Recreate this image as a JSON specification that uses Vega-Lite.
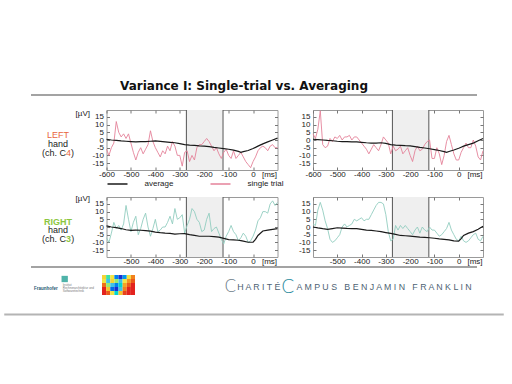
{
 "$schema": "https://vega.github.io/schema/vega-lite/v6.json",
 "background": "white",
 "padding": {"left": 3, "top": 80, "right": 5, "bottom": 3},
 "config": {
  "font": "Liberation Sans",
  "view": {"stroke": "#9a9a9a"},
  "axis": {"domain": false, "grid": false, "ticks": false, "labelOverlap": false, "labelFlush": false, "labelFont": "Liberation Sans", "labelFontSize": 8, "labelColor": "#222", "titleFont": "Liberation Sans", "titleFontSize": 8, "titleFontWeight": "normal", "titleColor": "#222"},
  "legend": {"labelFont": "Liberation Sans"},
  "title": {"font": "Liberation Sans"}
 },
 "datasets": {
  "band": [{"a": -273, "b": -123}],
  "single": [
   {"t":-600,"tl":-6,"tr":4,"bl":-7,"br":2},
   {"t":-590,"tl":-10,"tr":1,"bl":-10,"br":1},
   {"t":-580,"tl":-5,"tr":7,"bl":-4,"br":11},
   {"t":-570,"tl":-2,"tr":19,"bl":3,"br":16},
   {"t":-560,"tl":12,"tr":-3,"bl":-1,"br":11},
   {"t":-550,"tl":5,"tr":-5,"bl":1,"br":4},
   {"t":-540,"tl":2,"tr":-4,"bl":-2,"br":-1},
   {"t":-530,"tl":4,"tr":1,"bl":2,"br":-8},
   {"t":-520,"tl":1,"tr":-1,"bl":14,"br":-10},
   {"t":-510,"tl":4,"tr":2,"bl":5,"br":-9},
   {"t":-500,"tl":-2,"tr":1,"bl":-3,"br":-7},
   {"t":-490,"tl":-8,"tr":3,"bl":3,"br":-5},
   {"t":-480,"tl":-13,"tr":0,"bl":7,"br":0},
   {"t":-470,"tl":-8,"tr":2,"bl":-5,"br":2},
   {"t":-460,"tl":-5,"tr":2,"bl":-1,"br":0},
   {"t":-450,"tl":-9,"tr":3,"bl":5,"br":1},
   {"t":-440,"tl":-6,"tr":0,"bl":9,"br":2},
   {"t":-430,"tl":-3,"tr":2,"bl":0,"br":5},
   {"t":-420,"tl":6,"tr":2,"bl":-6,"br":4},
   {"t":-410,"tl":-1,"tr":0,"bl":-1,"br":5},
   {"t":-400,"tl":-5,"tr":-2,"bl":5,"br":6},
   {"t":-390,"tl":-8,"tr":-4,"bl":-3,"br":4},
   {"t":-380,"tl":-11,"tr":-6,"bl":-2,"br":5},
   {"t":-370,"tl":-7,"tr":-9,"bl":0,"br":5},
   {"t":-360,"tl":-9,"tr":-6,"bl":0,"br":8},
   {"t":-350,"tl":-4,"tr":-3,"bl":3,"br":11},
   {"t":-340,"tl":-7,"tr":-5,"bl":7,"br":14},
   {"t":-330,"tl":-1,"tr":-7,"bl":2,"br":16},
   {"t":-320,"tl":-4,"tr":-3,"bl":12,"br":16},
   {"t":-310,"tl":-10,"tr":2,"bl":5,"br":15},
   {"t":-300,"tl":-10,"tr":0,"bl":6,"br":8},
   {"t":-290,"tl":-17,"tr":-2,"bl":8,"br":-3},
   {"t":-280,"tl":-8,"tr":-9,"bl":-4,"br":-9},
   {"t":-270,"tl":-7,"tr":-4,"bl":1,"br":-8},
   {"t":-260,"tl":-14,"tr":-7,"bl":5,"br":1},
   {"t":-250,"tl":-10,"tr":-6,"bl":12,"br":-2},
   {"t":-240,"tl":-13,"tr":-4,"bl":10,"br":1},
   {"t":-230,"tl":-5,"tr":-9,"bl":5,"br":-1},
   {"t":-220,"tl":-3,"tr":-7,"bl":3,"br":1},
   {"t":-210,"tl":-3,"tr":-5,"bl":-3,"br":-1},
   {"t":-200,"tl":-1,"tr":-10,"bl":-2,"br":-3},
   {"t":-190,"tl":1,"tr":-14,"bl":5,"br":-5},
   {"t":-180,"tl":-1,"tr":-7,"bl":9,"br":-2},
   {"t":-170,"tl":-4,"tr":-4,"bl":-3,"br":0},
   {"t":-160,"tl":-7,"tr":-7,"bl":-1,"br":-4},
   {"t":-150,"tl":-5,"tr":-6,"bl":0,"br":0},
   {"t":-140,"tl":-9,"tr":-3,"bl":-4,"br":-2},
   {"t":-130,"tl":-12,"tr":-1,"bl":-8,"br":-3},
   {"t":-120,"tl":-8,"tr":0,"bl":-11,"br":0},
   {"t":-110,"tl":-6,"tr":-12,"bl":-6,"br":-2},
   {"t":-100,"tl":-10,"tr":-12,"bl":-3,"br":-2},
   {"t":-90,"tl":-12,"tr":-5,"bl":1,"br":-4},
   {"t":-80,"tl":-7,"tr":-9,"bl":-3,"br":-6},
   {"t":-70,"tl":-12,"tr":-16,"bl":-5,"br":-5},
   {"t":-60,"tl":-10,"tr":-10,"bl":-9,"br":-3},
   {"t":-50,"tl":-8,"tr":-1,"bl":-7,"br":-1},
   {"t":-40,"tl":-11,"tr":3,"bl":-4,"br":3},
   {"t":-30,"tl":-14,"tr":-3,"bl":-6,"br":-2},
   {"t":-20,"tl":-16,"tr":-9,"bl":-10,"br":-5},
   {"t":-10,"tl":-18,"tr":-13,"bl":-9,"br":-8},
   {"t":0,"tl":-14,"tr":-13,"bl":-6,"br":-9},
   {"t":10,"tl":-11,"tr":-8,"bl":-2,"br":-6},
   {"t":20,"tl":-7,"tr":-5,"bl":4,"br":-9},
   {"t":30,"tl":-5,"tr":-2,"bl":6,"br":-10},
   {"t":40,"tl":-4,"tr":-5,"bl":10,"br":-9},
   {"t":50,"tl":-5,"tr":-5,"bl":10,"br":-7},
   {"t":60,"tl":-7,"tr":0,"bl":9,"br":-5},
   {"t":70,"tl":-4,"tr":-4,"bl":15,"br":-4},
   {"t":80,"tl":-3,"tr":-11,"bl":17,"br":-8},
   {"t":90,"tl":-5,"tr":-13,"bl":14,"br":-9},
   {"t":100,"tl":-5,"tr":-7,"bl":16,"br":-6}
  ],
  "avg": [
   {"t":-600,"tl":0.5,"tr":0.5,"bl":0.7,"br":0},
   {"t":-580,"tl":0,"tr":0.3,"bl":0,"br":-0.6},
   {"t":-560,"tl":-0.3,"tr":0,"bl":-0.4,"br":-1.1},
   {"t":-540,"tl":-0.6,"tr":-0.3,"bl":-1,"br":-1.5},
   {"t":-520,"tl":-0.8,"tr":-0.5,"bl":-1.8,"br":-1},
   {"t":-500,"tl":-1,"tr":-0.8,"bl":-2.2,"br":-0.5},
   {"t":-480,"tl":-1.2,"tr":-1,"bl":-2,"br":-0.7},
   {"t":-460,"tl":-1,"tr":-1,"bl":-2.1,"br":-0.9},
   {"t":-440,"tl":-1.1,"tr":-1.2,"bl":-2.4,"br":-1},
   {"t":-420,"tl":-0.8,"tr":-1.2,"bl":-2.7,"br":-1.1},
   {"t":-400,"tl":-0.6,"tr":-1.5,"bl":-3.3,"br":-1.5},
   {"t":-380,"tl":-0.9,"tr":-1.8,"bl":-3.7,"br":-2},
   {"t":-360,"tl":-1.2,"tr":-2,"bl":-4,"br":-2.2},
   {"t":-340,"tl":-1.5,"tr":-2,"bl":-4.2,"br":-2.6},
   {"t":-320,"tl":-1.8,"tr":-1.8,"bl":-4.6,"br":-3},
   {"t":-300,"tl":-2.4,"tr":-2.2,"bl":-4.4,"br":-3.6},
   {"t":-280,"tl":-3,"tr":-3,"bl":-4.3,"br":-4.2},
   {"t":-260,"tl":-3.3,"tr":-3.3,"bl":-5,"br":-4.8},
   {"t":-240,"tl":-3.5,"tr":-3.5,"bl":-5.5,"br":-5.5},
   {"t":-220,"tl":-3.8,"tr":-3.7,"bl":-6,"br":-5.7},
   {"t":-200,"tl":-4,"tr":-3.8,"bl":-6,"br":-5.9},
   {"t":-180,"tl":-4.3,"tr":-4.3,"bl":-6,"br":-6.2},
   {"t":-160,"tl":-4.8,"tr":-4.8,"bl":-6.3,"br":-6.6},
   {"t":-140,"tl":-5.2,"tr":-5.2,"bl":-6.6,"br":-6.8},
   {"t":-120,"tl":-5.6,"tr":-5.7,"bl":-7.4,"br":-7},
   {"t":-100,"tl":-6,"tr":-6.2,"bl":-8.2,"br":-7.3},
   {"t":-80,"tl":-6.6,"tr":-6.8,"bl":-8.4,"br":-7.7},
   {"t":-60,"tl":-7.4,"tr":-7.6,"bl":-8.6,"br":-8},
   {"t":-50,"tl":-8,"tr":-8,"bl":-8.9,"br":-8.2},
   {"t":-40,"tl":-7.6,"tr":-7.5,"bl":-9.2,"br":-8.4},
   {"t":-20,"tl":-6.8,"tr":-6.5,"bl":-9.9,"br":-9},
   {"t":0,"tl":-5.5,"tr":-5.4,"bl":-9.9,"br":-9.2},
   {"t":10,"tl":-4.8,"tr":-4.7,"bl":-8,"br":-7.5},
   {"t":20,"tl":-4,"tr":-4,"bl":-5.5,"br":-5.5},
   {"t":40,"tl":-2.5,"tr":-3,"bl":-2.6,"br":-4},
   {"t":60,"tl":-1.2,"tr":-2,"bl":-2,"br":-3},
   {"t":80,"tl":0,"tr":-0.5,"bl":-1.5,"br":-1.5},
   {"t":100,"tl":1.2,"tr":1,"bl":-1,"br":0.5}
  ],
  "logo": [
   {"c":0,"r":0,"v":0.55},{"c":1,"r":0,"v":0.4},{"c":2,"r":0,"v":0.5},{"c":3,"r":0,"v":0.15},{"c":4,"r":0,"v":0},{"c":5,"r":0,"v":0.2},{"c":6,"r":0,"v":0.5},{"c":7,"r":0,"v":0.8},
   {"c":0,"r":1,"v":0.5},{"c":1,"r":1,"v":0.3},{"c":2,"r":1,"v":0.55},{"c":3,"r":1,"v":0.45},{"c":4,"r":1,"v":0.3},{"c":5,"r":1,"v":0.5},{"c":6,"r":1,"v":0.75},{"c":7,"r":1,"v":0.9},
   {"c":0,"r":2,"v":0.85},{"c":1,"r":2,"v":0.45},{"c":2,"r":2,"v":0.3},{"c":3,"r":2,"v":0.15},{"c":4,"r":2,"v":0.35},{"c":5,"r":2,"v":0.7},{"c":6,"r":2,"v":0.9},{"c":7,"r":2,"v":1},
   {"c":0,"r":3,"v":1},{"c":1,"r":3,"v":0.6},{"c":2,"r":3,"v":0.1},{"c":3,"r":3,"v":0},{"c":4,"r":3,"v":0.3},{"c":5,"r":3,"v":0.8},{"c":6,"r":3,"v":1},{"c":7,"r":3,"v":1},
   {"c":0,"r":4,"v":1},{"c":1,"r":4,"v":0.9},{"c":2,"r":4,"v":0.5},{"c":3,"r":4,"v":0.35},{"c":4,"r":4,"v":0.6},{"c":5,"r":4,"v":0.95},{"c":6,"r":4,"v":1},{"c":7,"r":4,"v":1}
  ]
 },
 "spacing": 0,
 "resolve": {"scale": {"color": "independent"}, "legend": {"color": "independent"}},
 "vconcat": [
  {
   "width": 446, "height": 13,
   "view": {"stroke": null, "fill": "transparent"},
   "title": {"text": "Variance I: Single-trial vs. Averaging", "font": "DejaVu Sans", "fontSize": 12, "fontWeight": "bold", "color": "#111", "anchor": "middle", "dx": -10, "offset": 1},
   "data": {"values": [{}]},
   "mark": {"type": "rule", "color": "#a3a3a3", "strokeWidth": 2},
   "encoding": {"y": {"datum": 0, "type": "quantitative", "scale": {"domain": [0, 13], "reverse": true}, "axis": null}}
  },
  {
   "columns": 3,
   "align": "each",
   "bounds": "flush",
   "spacing": {"row": 27, "column": 35.5},
   "resolve": {"scale": {"color": "independent"}, "legend": {"color": "independent"}},
   "concat": [
    {
     "width": 39.5, "height": 60,
     "view": {"stroke": null},
     "layer": [
      {"data": {"values": [{"t": "LEFT"}]}, "mark": {"type": "text", "fontSize": 9, "color": "#e8663d", "dx": 7.25, "dy": -5}, "encoding": {"text": {"field": "t"}}},
      {"data": {"values": [{"t": "hand"}]}, "mark": {"type": "text", "fontSize": 9, "color": "#222", "dx": 7.25, "dy": 4}, "encoding": {"text": {"field": "t"}}},
      {"data": {"values": [{"t": "(ch. C"}]}, "mark": {"type": "text", "fontSize": 9, "color": "#222", "align": "right", "dx": 15.25, "dy": 13}, "encoding": {"text": {"field": "t"}}},
      {"data": {"values": [{"t": "4"}]}, "mark": {"type": "text", "fontSize": 9, "color": "#e8663d", "align": "left", "dx": 15.25, "dy": 13}, "encoding": {"text": {"field": "t"}}},
      {"data": {"values": [{"t": ")"}]}, "mark": {"type": "text", "fontSize": 9, "color": "#222", "align": "left", "dx": 20.25, "dy": 13}, "encoding": {"text": {"field": "t"}}}
     ]
    },
    {
     "width": 171, "height": 60,
     "resolve": {"axis": {"x": "independent", "y": "independent"}},
     "layer": [
      {"data": {"name": "band"}, "mark": {"type": "rect", "fill": "#efefef"}, "encoding": {"x": {"field": "a", "type": "quantitative", "scale": {"domain": [-600, 100], "nice": false}, "axis": {"orient": "top", "title": null, "values": [-600, -500, -400, -300, -200, -100, 0], "tickCount": 20, "labels": false, "ticks": true, "tickSize": -3, "tickColor": "#777"}}, "x2": {"field": "b"}}},
      {"data": {"name": "band"}, "mark": {"type": "rule", "color": "#555", "strokeWidth": 1}, "encoding": {"x": {"field": "a", "type": "quantitative", "axis": null}}},
      {"data": {"name": "band"}, "mark": {"type": "rule", "color": "#555", "strokeWidth": 1}, "encoding": {"x": {"field": "b", "type": "quantitative", "axis": null}}},
      {"data": {"name": "single"}, "mark": {"type": "line", "strokeWidth": 0.9}, "encoding": {"x": {"field": "t", "type": "quantitative", "axis": {"title": null, "values": [-600, -500, -400, -300, -200, -100, 0, 65], "tickCount": 20, "labelExpr": "datum.value == 65 ? '[ms]' : (datum.value < 0 ? '-' + abs(datum.value) : '' + datum.value)", "ticks": true, "tickSize": -3, "tickColor": "#777", "tickOpacity": {"condition": {"test": "datum.value == 65", "value": 0}, "value": 1}, "labelPadding": 3}}, "y": {"field": "tl", "type": "quantitative", "scale": {"domain": [-19.5, 19.5], "nice": false}, "axis": {"values": [-15, -10, -5, 0, 5, 10, 15], "tickCount": 20, "labelExpr": "datum.value < 0 ? '-' + abs(datum.value) : '' + datum.value", "ticks": true, "tickSize": -3, "tickColor": "#777", "labelPadding": 6, "title": "[µV]", "titleAngle": 0, "titleAlign": "right", "titleBaseline": "middle", "titleX": -17, "titleY": 3}}, "color": {"datum": "single trial", "scale": {"domain": ["average", "single trial"], "range": ["#1a1a1a", "#e4829a"]}, "legend": {"orient": "bottom", "direction": "horizontal", "title": null, "padding": 0, "labelFontSize": 8, "labelColor": "#222", "labelOffset": 16, "columnPadding": 34, "symbolSize": 400, "symbolStrokeWidth": 1.5, "offset": -5}}}},
      {"data": {"name": "avg"}, "mark": {"type": "line", "strokeWidth": 1.2}, "encoding": {"x": {"field": "t", "type": "quantitative", "axis": null}, "y": {"field": "tl", "type": "quantitative", "axis": {"orient": "right", "title": null, "values": [-15, -10, -5, 0, 5, 10, 15], "tickCount": 20, "labels": false, "ticks": true, "tickSize": -3, "tickColor": "#777"}}, "color": {"datum": "average"}}}
     ]
    },
    {
     "width": 170, "height": 60,
     "resolve": {"axis": {"x": "independent", "y": "independent"}},
     "layer": [
      {"data": {"name": "band"}, "mark": {"type": "rect", "fill": "#efefef"}, "encoding": {"x": {"field": "a", "type": "quantitative", "scale": {"domain": [-600, 100], "nice": false}, "axis": {"orient": "top", "title": null, "values": [-600, -500, -400, -300, -200, -100, 0], "tickCount": 20, "labels": false, "ticks": true, "tickSize": -3, "tickColor": "#777"}}, "x2": {"field": "b"}}},
      {"data": {"name": "band"}, "mark": {"type": "rule", "color": "#555", "strokeWidth": 1}, "encoding": {"x": {"field": "a", "type": "quantitative", "axis": null}}},
      {"data": {"name": "band"}, "mark": {"type": "rule", "color": "#555", "strokeWidth": 1}, "encoding": {"x": {"field": "b", "type": "quantitative", "axis": null}}},
      {"data": {"name": "single"}, "mark": {"type": "line", "strokeWidth": 0.9}, "encoding": {"x": {"field": "t", "type": "quantitative", "axis": {"title": null, "values": [-600, -500, -400, -300, -200, -100, 0, 65], "tickCount": 20, "labelExpr": "datum.value == 65 ? '[ms]' : (datum.value < 0 ? '-' + abs(datum.value) : '' + datum.value)", "ticks": true, "tickSize": -3, "tickColor": "#777", "tickOpacity": {"condition": {"test": "datum.value == 65", "value": 0}, "value": 1}, "labelPadding": 3}}, "y": {"field": "tr", "type": "quantitative", "scale": {"domain": [-19.5, 19.5], "nice": false}, "axis": {"values": [-15, -10, -5, 0, 5, 10, 15], "tickCount": 20, "labelExpr": "datum.value < 0 ? '-' + abs(datum.value) : '' + datum.value", "ticks": true, "tickSize": -3, "tickColor": "#777", "labelPadding": 6, "title": null}}, "color": {"datum": "single trial", "scale": {"domain": ["average", "single trial"], "range": ["#1a1a1a", "#e4829a"]}, "legend": null}}},
      {"data": {"name": "avg"}, "mark": {"type": "line", "strokeWidth": 1.2}, "encoding": {"x": {"field": "t", "type": "quantitative", "axis": null}, "y": {"field": "tr", "type": "quantitative", "axis": {"orient": "right", "title": null, "values": [-15, -10, -5, 0, 5, 10, 15], "tickCount": 20, "labels": false, "ticks": true, "tickSize": -3, "tickColor": "#777"}}, "color": {"datum": "average"}}}
     ]
    },
    {
     "width": 39.5, "height": 60,
     "view": {"stroke": null},
     "layer": [
      {"data": {"values": [{"t": "RIGHT"}]}, "mark": {"type": "text", "fontSize": 9, "fontWeight": "bold", "color": "#8cc63f", "dx": 7.25, "dy": -5.5}, "encoding": {"text": {"field": "t"}}},
      {"data": {"values": [{"t": "hand"}]}, "mark": {"type": "text", "fontSize": 9, "color": "#222", "dx": 7.25, "dy": 3}, "encoding": {"text": {"field": "t"}}},
      {"data": {"values": [{"t": "(ch. C"}]}, "mark": {"type": "text", "fontSize": 9, "color": "#222", "align": "right", "dx": 15.25, "dy": 11.5}, "encoding": {"text": {"field": "t"}}},
      {"data": {"values": [{"t": "3"}]}, "mark": {"type": "text", "fontSize": 9, "fontWeight": "bold", "color": "#8cc63f", "align": "left", "dx": 15.25, "dy": 11.5}, "encoding": {"text": {"field": "t"}}},
      {"data": {"values": [{"t": ")"}]}, "mark": {"type": "text", "fontSize": 9, "color": "#222", "align": "left", "dx": 20.5, "dy": 11.5}, "encoding": {"text": {"field": "t"}}}
     ]
    },
    {
     "width": 171, "height": 60,
     "resolve": {"axis": {"x": "independent", "y": "independent"}},
     "layer": [
      {"data": {"name": "band"}, "mark": {"type": "rect", "fill": "#efefef"}, "encoding": {"x": {"field": "a", "type": "quantitative", "scale": {"domain": [-600, 100], "nice": false}, "axis": {"orient": "top", "title": null, "values": [-600, -500, -400, -300, -200, -100, 0], "tickCount": 20, "labels": false, "ticks": true, "tickSize": -3, "tickColor": "#777"}}, "x2": {"field": "b"}}},
      {"data": {"name": "band"}, "mark": {"type": "rule", "color": "#555", "strokeWidth": 1}, "encoding": {"x": {"field": "a", "type": "quantitative", "axis": null}}},
      {"data": {"name": "band"}, "mark": {"type": "rule", "color": "#555", "strokeWidth": 1}, "encoding": {"x": {"field": "b", "type": "quantitative", "axis": null}}},
      {"data": {"name": "single"}, "mark": {"type": "line", "strokeWidth": 0.9}, "encoding": {"x": {"field": "t", "type": "quantitative", "axis": {"title": null, "values": [-500, -400, -300, -200, -100, 0, 65], "tickCount": 20, "labelExpr": "datum.value == 65 ? '[ms]' : (datum.value < 0 ? '-' + abs(datum.value) : '' + datum.value)", "ticks": true, "tickSize": -3, "tickColor": "#777", "tickOpacity": {"condition": {"test": "datum.value == 65", "value": 0}, "value": 1}, "labelPadding": 3}}, "y": {"field": "bl", "type": "quantitative", "scale": {"domain": [-19.5, 19.5], "nice": false}, "axis": {"values": [-15, -10, -5, 0, 5, 10, 15], "tickCount": 20, "labelExpr": "datum.value < 0 ? '-' + abs(datum.value) : '' + datum.value", "ticks": true, "tickSize": -3, "tickColor": "#777", "labelPadding": 6, "title": "[µV]", "titleAngle": 0, "titleAlign": "right", "titleBaseline": "middle", "titleX": -17, "titleY": 1}}, "color": {"datum": "single trial", "scale": {"domain": ["average", "single trial"], "range": ["#1a1a1a", "#92cdc0"]}, "legend": null}}},
      {"data": {"name": "avg"}, "mark": {"type": "line", "strokeWidth": 1.2}, "encoding": {"x": {"field": "t", "type": "quantitative", "axis": null}, "y": {"field": "bl", "type": "quantitative", "axis": {"orient": "right", "title": null, "values": [-15, -10, -5, 0, 5, 10, 15], "tickCount": 20, "labels": false, "ticks": true, "tickSize": -3, "tickColor": "#777"}}, "color": {"datum": "average"}}}
     ]
    },
    {
     "width": 170, "height": 60,
     "resolve": {"axis": {"x": "independent", "y": "independent"}},
     "layer": [
      {"data": {"name": "band"}, "mark": {"type": "rect", "fill": "#efefef"}, "encoding": {"x": {"field": "a", "type": "quantitative", "scale": {"domain": [-600, 100], "nice": false}, "axis": {"orient": "top", "title": null, "values": [-600, -500, -400, -300, -200, -100, 0], "tickCount": 20, "labels": false, "ticks": true, "tickSize": -3, "tickColor": "#777"}}, "x2": {"field": "b"}}},
      {"data": {"name": "band"}, "mark": {"type": "rule", "color": "#555", "strokeWidth": 1}, "encoding": {"x": {"field": "a", "type": "quantitative", "axis": null}}},
      {"data": {"name": "band"}, "mark": {"type": "rule", "color": "#555", "strokeWidth": 1}, "encoding": {"x": {"field": "b", "type": "quantitative", "axis": null}}},
      {"data": {"name": "single"}, "mark": {"type": "line", "strokeWidth": 0.9}, "encoding": {"x": {"field": "t", "type": "quantitative", "axis": {"title": null, "values": [-500, -400, -300, -200, -100, 0, 65], "tickCount": 20, "labelExpr": "datum.value == 65 ? '[ms]' : (datum.value < 0 ? '-' + abs(datum.value) : '' + datum.value)", "ticks": true, "tickSize": -3, "tickColor": "#777", "tickOpacity": {"condition": {"test": "datum.value == 65", "value": 0}, "value": 1}, "labelPadding": 3}}, "y": {"field": "br", "type": "quantitative", "scale": {"domain": [-19.5, 19.5], "nice": false}, "axis": {"values": [-15, -10, -5, 0, 5, 10, 15], "tickCount": 20, "labelExpr": "datum.value < 0 ? '-' + abs(datum.value) : '' + datum.value", "ticks": true, "tickSize": -3, "tickColor": "#777", "labelPadding": 6, "title": null}}, "color": {"datum": "single trial", "scale": {"domain": ["average", "single trial"], "range": ["#1a1a1a", "#92cdc0"]}, "legend": null}}},
      {"data": {"name": "avg"}, "mark": {"type": "line", "strokeWidth": 1.2}, "encoding": {"x": {"field": "t", "type": "quantitative", "axis": null}, "y": {"field": "br", "type": "quantitative", "axis": {"orient": "right", "title": null, "values": [-15, -10, -5, 0, 5, 10, 15], "tickCount": 20, "labels": false, "ticks": true, "tickSize": -3, "tickColor": "#777"}}, "color": {"datum": "average"}}}
     ]
    }
   ]
  },
  {
   "width": 446, "height": 30,
   "view": {"stroke": null},
   "resolve": {"scale": {"x": "independent", "y": "independent", "color": "independent"}},
   "layer": [
    {
     "data": {"values": [{}]},
     "layer": [
      {"mark": {"type": "rule", "color": "#a3a3a3", "strokeWidth": 2}, "encoding": {"y": {"datum": 0, "type": "quantitative", "scale": {"domain": [0, 30], "reverse": true}, "axis": null}}},
      {"mark": {"type": "rule", "color": "#b4b4b4", "strokeWidth": 2}, "encoding": {"x": {"datum": -27, "type": "quantitative", "scale": {"domain": [0, 446]}, "axis": null}, "x2": {"datum": 477}, "y": {"datum": 47.5, "type": "quantitative"}}},
      {"mark": {"type": "text", "text": "Fraunhofer", "fontSize": 4.5, "fontWeight": "bold", "color": "#1f5a73"}, "encoding": {"x": {"datum": 15, "type": "quantitative"}, "y": {"datum": 22, "type": "quantitative"}}},
      {"mark": {"type": "point", "shape": "square", "filled": true, "size": 40, "color": "#4fb3a9", "opacity": 1}, "encoding": {"x": {"datum": 34, "type": "quantitative"}, "y": {"datum": 12, "type": "quantitative"}}},
      {"mark": {"type": "text", "text": "Institut", "fontSize": 3, "align": "left", "color": "#777"}, "encoding": {"x": {"datum": 32, "type": "quantitative"}, "y": {"datum": 18, "type": "quantitative"}}},
      {"mark": {"type": "text", "text": "Rechnerarchitektur und", "fontSize": 3, "align": "left", "color": "#777"}, "encoding": {"x": {"datum": 32, "type": "quantitative"}, "y": {"datum": 21, "type": "quantitative"}}},
      {"mark": {"type": "text", "text": "Softwaretechnik", "fontSize": 3, "align": "left", "color": "#777"}, "encoding": {"x": {"datum": 32, "type": "quantitative"}, "y": {"datum": 24, "type": "quantitative"}}},
      {"mark": {"type": "text", "text": "C", "fontSize": 17, "font": "DejaVu Sans", "fontWeight": 200, "color": "#6c7d88"}, "encoding": {"x": {"datum": 201, "type": "quantitative"}, "y": {"datum": 20, "type": "quantitative"}}},
      {"mark": {"type": "text", "text": "H A R I T É", "fontSize": 8.8, "align": "left", "color": "#4e6373"}, "encoding": {"x": {"datum": 208, "type": "quantitative"}, "y": {"datum": 20, "type": "quantitative"}}},
      {"mark": {"type": "text", "text": "C", "fontSize": 19, "font": "DejaVu Sans", "fontWeight": 200, "color": "#2e8d9f"}, "encoding": {"x": {"datum": 259, "type": "quantitative"}, "y": {"datum": 20, "type": "quantitative"}}},
      {"mark": {"type": "text", "text": "A M P U S \u00a0 B E N J A M I N \u00a0 F R A N K L I N", "fontSize": 8.8, "align": "left", "color": "#4e6373"}, "encoding": {"x": {"datum": 268, "type": "quantitative"}, "y": {"datum": 20, "type": "quantitative"}}}
     ]
    },
    {
     "data": {"name": "logo"},
     "mark": {"type": "rect"},
     "encoding": {
      "x": {"field": "c", "type": "ordinal", "scale": {"range": [71, 104], "paddingInner": 0, "paddingOuter": 0}, "axis": null},
      "y": {"field": "r", "type": "ordinal", "scale": {"range": [8, 28], "paddingInner": 0, "paddingOuter": 0}, "axis": null},
      "color": {"field": "v", "type": "quantitative", "scale": {"domain": [0, 0.3, 0.5, 0.75, 1], "range": ["#1a2fd0", "#3fc1e6", "#f2e442", "#f39223", "#e3231e"]}, "legend": null}
     }
    }
   ]
  }
 ]
}
